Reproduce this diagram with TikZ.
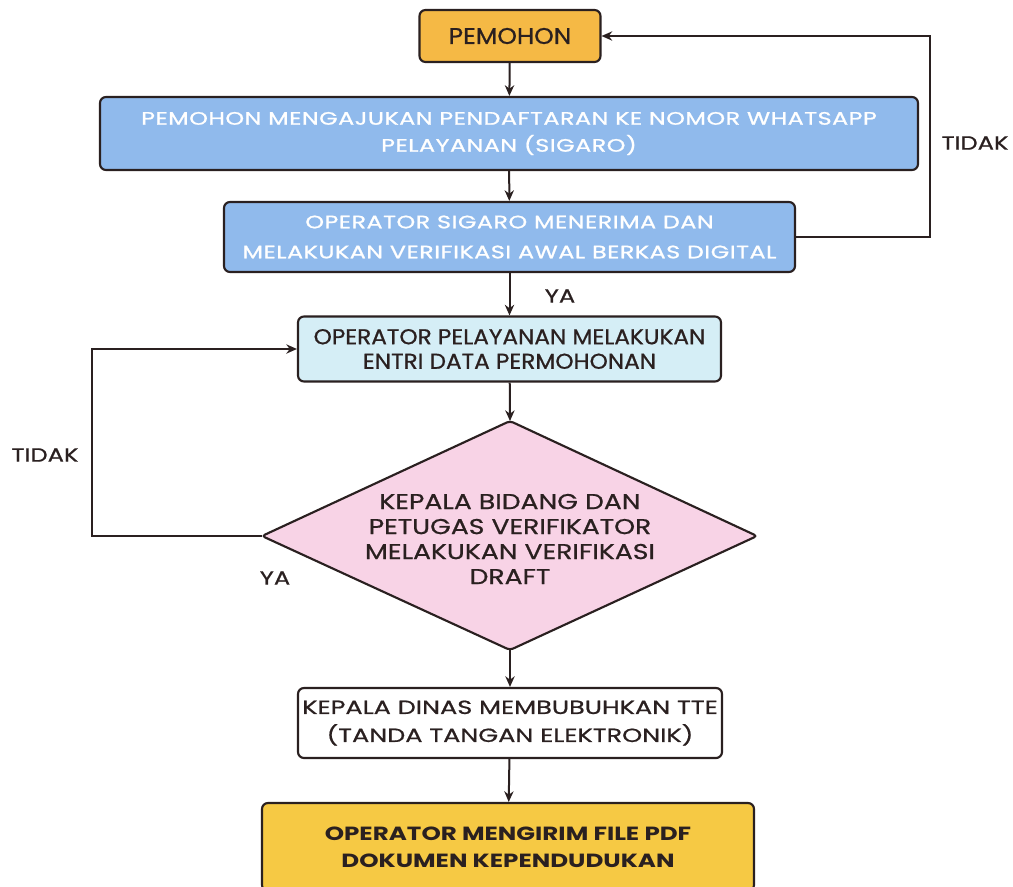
\documentclass[tikz,border=0pt]{standalone}
\usepackage{fontspec}
\setmainfont{Poppins}
\newfontfamily\medfont[FakeBold=0.8]{Poppins}
\newfontfamily\bluefont[FakeBold=1.2]{Poppins}
\usetikzlibrary{arrows.meta}
\definecolor{ink}{HTML}{2A2020}
\definecolor{orangefill}{HTML}{F5B945}
\definecolor{bluefill}{HTML}{90BAEC}
\definecolor{lightbluefill}{HTML}{D5EEF6}
\definecolor{pinkfill}{HTML}{F8D3E6}
\definecolor{goldfill}{HTML}{F6C944}
\tikzset{
  box/.style={draw=ink, line width=1.6pt, rounded corners=4.5pt, align=center, inner sep=0pt, text=ink},
  bluebox/.style={box, fill=bluefill, text=white},
  conn/.style={draw=ink, line width=1.5pt, -{Stealth[length=8pt,width=7pt]}},
  lbl/.style={text=ink, font=\medfont\fontsize{14.3}{16}\selectfont\addfontfeatures{FakeStretch=1.27}, inner sep=0pt},
}
\begin{document}
\begin{tikzpicture}[x=0.75pt,y=-0.75pt]
\useasboundingbox[fill=white] (0,0) rectangle (1013,886);
\node[box, fill=orangefill, minimum width=135.75pt, minimum height=39pt, font=\medfont\fontsize{17}{20}\selectfont\addfontfeatures{FakeStretch=1.1}] (p) at (510,36) {PEMOHON};
\node[bluebox, minimum width=613.5pt, minimum height=54.75pt, font=\bluefont\fontsize{13.5}{20.25}\selectfont\addfontfeatures{FakeStretch=1.32,LetterSpace=3}] (b1) at (509,133.5) {PEMOHON MENGAJUKAN PENDAFTARAN KE NOMOR WHATSAPP\\PELAYANAN (SIGARO)};
\node[bluebox, minimum width=428.25pt, minimum height=52.5pt, font=\bluefont\fontsize{13.5}{22.5}\selectfont\addfontfeatures{FakeStretch=1.32,LetterSpace=3}] (b2) at (509.5,237) {OPERATOR SIGARO MENERIMA DAN\\MELAKUKAN VERIFIKASI AWAL BERKAS DIGITAL};
\node[box, fill=lightbluefill, minimum width=317.25pt, minimum height=48.75pt, font=\medfont\fontsize{16.1}{18.4}\selectfont\addfontfeatures{FakeStretch=1.08}] (lb) at (509.5,349) {OPERATOR PELAYANAN MELAKUKAN\\ENTRI DATA PERMOHONAN};
\draw[draw=ink, line width=1.6pt, fill=pinkfill, rounded corners=2.5pt]
  (510,421) coordinate (dt) -- (757,536) coordinate (dr) -- (510,650) coordinate (db) -- (262,536) coordinate (dl) -- cycle;
\node[align=center, text=ink, inner sep=0pt, font=\medfont\fontsize{16.1}{18.75}\selectfont\addfontfeatures{FakeStretch=1.24}] (d) at (510,539) {KEPALA BIDANG DAN\\PETUGAS VERIFIKATOR\\MELAKUKAN VERIFIKASI\\DRAFT};
\node[box, fill=white, minimum width=318pt, minimum height=52.5pt, font=\medfont\fontsize{14.3}{21}\selectfont\addfontfeatures{FakeStretch=1.34}] (w) at (510,723) {KEPALA DINAS MEMBUBUHKAN TTE\\(TANDA TANGAN ELEKTRONIK)};
\node[box, fill=goldfill, minimum width=369pt, minimum height=66pt, font=\fontsize{14.3}{20}\selectfont\bfseries\addfontfeatures{FakeStretch=1.29}] (g) at (508,847) {OPERATOR MENGIRIM FILE PDF\\DOKUMEN KEPENDUDUKAN};
\draw[conn] (p) -- (b1);
\draw[conn] (b1) -- (b2);
\draw[conn] (b2) -- (lb);
\draw[conn] (lb) -- (dt);
\draw[conn] (db) -- (w);
\draw[conn] (w) -- (g);
\coordinate (rt) at (930,36);
\coordinate (rb) at (930,237);
\draw[conn] (b2.east) -- (rb) -- (rt) -- (p.east);
\coordinate (lt) at (92,349);
\coordinate (lbot) at (92,536);
\draw[conn] (dl) -- (lbot) -- (lt) -- (lb.west);
\node[lbl] (t1) at (975,143) {TIDAK};
\node[lbl] (y1) at (560,296) {YA};
\node[lbl] (t2) at (45,455) {TIDAK};
\node[lbl] (y2) at (275,578) {YA};
\end{tikzpicture}
\end{document}
